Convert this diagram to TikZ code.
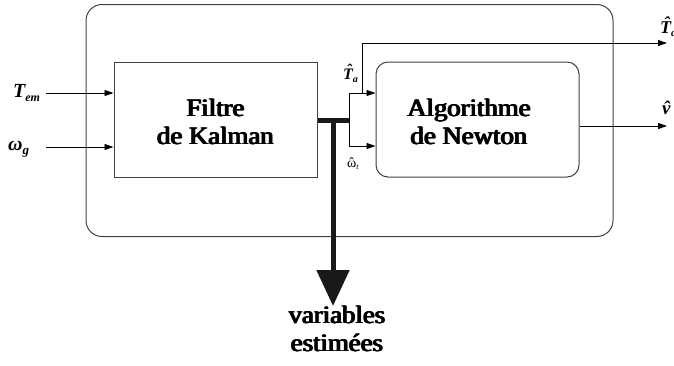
\documentclass[tikz,border=0pt]{standalone}
\usepackage{fontspec}
\usepackage{graphicx}
\setmainfont{Liberation Serif}
\usetikzlibrary{arrows.meta}
\newcommand{\bfit}{\bfseries\itshape}
\newcommand{\hatchar}[1]{\accent"02C6 #1}
\newcommand{\fb}[1]{\scalebox{1.07}[1]{\rlap{#1}\kern0.45pt\rlap{#1}\kern0.45pt\rlap{#1}\kern0.45pt#1}}
\begin{document}
\begin{tikzpicture}[x=1pt,y=-1pt,
  thinarrow/.style={line width=0.9pt,-{Triangle[length=9pt,width=6pt]}},
  thickline/.style={line width=5pt,draw=black!90},
  boxstyle/.style={draw=black!75,line width=1pt,inner sep=0pt},
  bigtext/.style={font=\fontsize{25}{28}\selectfont,align=center,inner sep=0pt},
  lab/.style={inner sep=0pt,anchor=base west}]
\useasboundingbox (0,0) rectangle (674,365);
% boxes
\node[boxstyle,rounded corners=16pt,minimum width=527pt,minimum height=232pt] (outer) at (349.5,120.5) {};
\node[boxstyle,minimum width=203pt,minimum height=115pt] (kal) at (215.5,119.5) {};
\node[boxstyle,rounded corners=12pt,minimum width=203pt,minimum height=115pt] (new) at (477.5,119.5) {};
\node[bigtext] (kaltext) at (215.5,122) {\fb{Filtre}\\\fb{de Kalman}};
\node[bigtext] (newtext) at (469,122) {\fb{Algorithme}\\\fb{de Newton}};
% inputs
\coordinate (tin) at (46,93);
\coordinate (win) at (46,147);
\draw[thinarrow] (tin) -- (tin -| kal.west);
\draw[thinarrow] (win) -- (win -| kal.west);
\node[lab,font=\fontsize{20}{20}\selectfont\bfit] (tem) at (13,97) {T\raisebox{-4pt}{\fontsize{12}{12}\selectfont em}};
\node[lab,font=\fontsize{20}{20}\selectfont\bfit] (wg) at (8,150) {ω\raisebox{-4pt}{\fontsize{13}{13}\selectfont g}};
% thick bus and estimated variables
\coordinate (j) at (333,120);
\coordinate (br) at (349,120);
\coordinate (vout) at (333,306);
\draw[thickline] (kal.east |- j) -- (br);
\draw[thickline,-{Triangle[length=36pt,width=32pt]}] (j) -- (vout);
\node[bigtext] (vartext) at (337,329) {\fb{variables}\\ \fb{estimées}};
% bracket to Newton
\coordinate (a1) at (349,93);
\coordinate (a2) at (349,146);
\draw[line width=0.9pt] (a1) -- (a2);
\draw[thinarrow] (a1) -- (a1 -| new.west);
\draw[thinarrow] (a2) -- (a2 -| new.west);
% Ta branch
\coordinate (b0) at (362,93);
\coordinate (b1) at (362,43);
\coordinate (tout) at (667,43);
\draw[thinarrow] (b0) -- (b1) -- (tout);
% v output
\coordinate (v0) at (new.east |- 0,126);
\coordinate (vend) at (667,126);
\draw[thinarrow] (v0) -- (vend);
% labels
\node[lab,font=\fontsize{16}{16}\selectfont\bfit] (ta) at (343,79) {\hatchar{T}\raisebox{-3pt}{\fontsize{10}{10}\selectfont a}};
\node[lab,font=\fontsize{14}{14}\selectfont] (wt) at (347,167) {\hatchar{ω}\raisebox{-2pt}{\fontsize{8}{8}\selectfont\itshape t}};
\node[lab,font=\fontsize{19}{19}\selectfont\bfit] (vh) at (662,114) {\hatchar{v}};
\node[lab,font=\fontsize{18}{18}\selectfont\bfit] (tah) at (660,33) {\hatchar{T}\raisebox{-3pt}{\fontsize{11}{11}\selectfont a}};
\end{tikzpicture}
\end{document}
